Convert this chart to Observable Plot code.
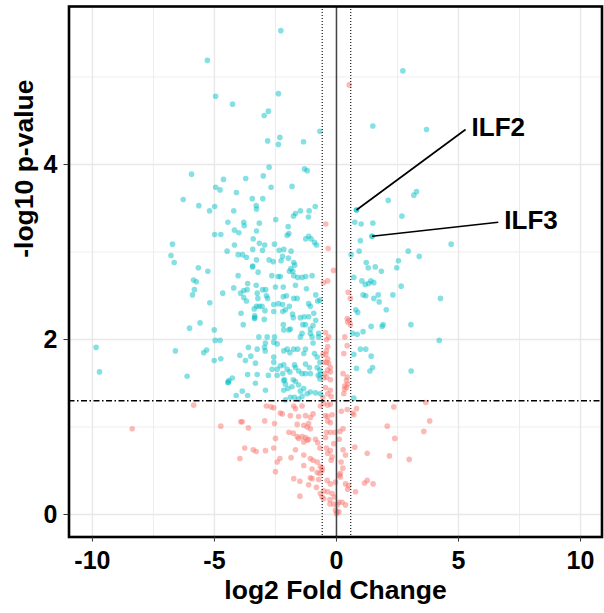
<!DOCTYPE html>
<html>
<head>
<meta charset="utf-8">
<script src="https://cdn.jsdelivr.net/npm/d3@7"></script>
<script src="https://cdn.jsdelivr.net/npm/@observablehq/plot@0.6"></script>
<style>
  html, body { margin: 0; padding: 0; background: white; }
  #chart { width: 604px; height: 613px; }
</style>
</head>
<body>
<div id="chart"></div>
<script>
// Significant genes (p < 0.05 and |log2FC| > log2(1.5)) : [log2FC, -log10 p]
const sigPoints = [
  [-5.29,5.19],[-4.95,4.78],[-4.26,4.69],[-5.94,3.89],[-4.63,3.83],[-3.72,3.84],[-4.95,3.74],[-4.77,3.71],[-4.10,3.68],[-6.28,3.60],[-3.45,3.61],
  [-2.28,5.53],[2.72,5.07],[-2.38,4.81],[-2.79,4.61],[-2.96,4.56],[1.49,4.44],[3.69,4.40],[-0.68,4.38],[-2.82,4.27],[-2.32,4.31],[-2.38,4.23],[-1.35,4.26],[-2.76,3.97],[-3.00,3.87],[-1.31,3.95],[-1.20,3.93],[-2.68,3.74],[-1.82,3.75],[-3.02,3.61],[2.12,3.59],[3.28,3.69],[3.17,3.65],
  [-5.64,3.53],[-4.99,3.52],[-5.20,3.47],[-3.29,3.53],[-3.28,3.49],[-4.21,3.47],[-4.45,3.34],[-3.80,3.34],[-3.78,3.30],[-3.16,3.33],[-4.18,3.25],[-4.00,3.22],[-3.28,3.24],[-4.99,3.20],[-4.74,3.20],[-3.41,3.15],[-6.72,3.09],[-4.18,3.08],[-3.16,3.10],[-4.48,3.01],[-3.43,3.03],[-6.78,2.96],[-4.03,2.97],[-3.85,2.97],[-3.69,2.94],[-3.28,2.91],[-6.65,2.88],[-3.43,2.84],[-3.44,2.83],[-5.66,2.82],[-5.27,2.78],[-3.21,2.77],[-4.03,2.73],[-5.86,2.68],[-5.74,2.66],[-5.82,2.57],[-4.21,2.59],[-3.64,2.64],[-3.29,2.62],[-3.80,2.56],[-3.66,2.57],[-3.93,2.53],[-3.25,2.53],[-4.66,2.53],[-5.90,2.51],[-3.80,2.48],[-3.69,2.44],[-5.19,2.42],[-3.28,2.38],[-3.16,2.38],[-3.37,2.35],[-3.91,2.30],[-3.35,2.27],[-3.36,2.24],[-3.35,2.25],[-3.82,2.17],[-6.02,2.13],[-5.59,2.19],[-5.01,2.11],[-4.97,1.99],[-4.77,1.99],[-9.85,1.91],[-6.60,1.87],[-5.44,1.85],[-5.32,1.88],[-5.01,1.76],[-4.74,1.78],[-3.96,1.82],[-3.73,1.76],[-3.51,1.81],[-3.61,1.91],[-3.25,1.89],[-3.32,1.73],[-9.71,1.63],[-6.12,1.58],[-4.27,1.56],[-4.41,1.53],[-3.64,1.60],[-3.25,1.60],
  [-4.45,1.51],[-4.43,1.51],[-3.32,1.50],[-3.86,1.41],[-4.11,1.36],[-3.64,1.36],
  [-0.87,3.52],[-1.12,3.47],[-1.48,3.47],[-1.68,3.44],[-1.76,3.41],[-2.49,3.37],[-1.15,3.40],[-1.98,3.29],[-1.95,3.21],[-2.02,3.19],[-1.14,3.18],[-1.04,3.15],[-1.26,3.15],[-0.90,3.11],[-0.82,3.08],[-2.94,3.08],[-2.54,3.09],[-3.03,3.02],[-2.16,3.03],[-2.35,3.02],[-1.86,3.01],[-2.76,2.91],[-2.59,2.89],[-2.21,2.95],[-2.27,2.90],[-1.97,2.93],[-1.75,2.88],[-1.71,2.85],[-1.87,2.81],[-1.79,2.78],[-1.93,2.78],[-1.75,2.73],[-1.59,2.71],[-1.41,2.71],[-1.26,2.72],[-1.00,2.73],[-2.65,2.73],[-2.39,2.72],[-2.30,2.72],[-2.90,2.57],[-3.03,2.57],[-1.68,2.62],[-1.23,2.58],[-2.50,2.60],[-2.18,2.60],[-2.87,2.50],[-2.82,2.47],[-3.22,2.47],[-2.18,2.49],[-2.05,2.50],[-2.38,2.41],[-2.57,2.40],[-2.21,2.40],[-1.75,2.47],[-1.61,2.47],[-1.14,2.41],[-1.07,2.38],[-0.85,2.51],[-0.68,2.45],[-0.77,2.44],[-3.05,2.38],[-1.93,2.38],[-2.93,2.33],[-2.09,2.34],[-2.20,2.32],[-2.57,2.32],[-1.80,2.29],[-1.77,2.25],[-2.96,2.23],[-2.18,2.17],[-1.48,2.25],[-1.32,2.26],[-1.14,2.26],[-0.93,2.30],[-1.38,2.17],[-1.27,2.17],[-1.89,2.12],[-1.95,2.11],[-2.16,2.11],[-0.85,2.22],[-0.96,2.16],[-1.07,2.12],[-2.54,2.03],[-2.84,2.03],[-2.91,1.96],[-2.95,1.91],[-2.92,1.87],[-2.57,1.97],[-2.43,1.95],[-3.18,2.03],[-1.41,2.07],[-1.48,2.03],[-1.07,2.07],[-1.00,2.03],[-0.96,1.96],[-0.73,2.07],[-0.73,2.03],[-2.16,1.87],[-2.02,1.89],[-1.91,1.85],[-1.75,1.89],[-1.59,1.89],[-1.27,1.89],[-1.34,1.84],[-0.90,1.84],[-0.79,1.80],[-0.68,1.74],[-0.79,1.68],[-0.68,1.65],[-0.75,1.59],[-2.57,1.80],[-1.72,1.71],[-1.68,1.68],[-2.30,1.70],[-2.43,1.66],[-2.64,1.66],[-2.20,1.61],[-1.91,1.63],[-1.55,1.64],[-1.41,1.61],[-1.27,1.61],[-1.11,1.68],[-1.07,1.61],[-2.79,1.59],[-2.13,1.54],[-1.77,1.54],
  [-2.43,1.59],[-2.02,1.66],[-2.16,1.53],[-2.09,1.49],[-2.16,1.42],[-1.99,1.44],[-1.82,1.46],[-1.68,1.52],[-1.55,1.48],[-1.48,1.41],[-1.34,1.44],[-1.20,1.38],[-1.07,1.40],[-0.86,1.39],[-1.72,1.34],[-1.89,1.34],[-2.09,1.31],[-1.55,1.32],[-1.41,1.35],[-0.66,1.60],[-0.68,1.55],[-0.66,1.38],[-2.91,1.42],[-2.57,1.74],[-2.16,1.71],[-1.27,1.72],
  [0.82,3.48],[0.75,3.34],[1.01,3.32],[1.49,3.33],[1.46,3.18],[0.98,3.13],[0.93,3.01],[0.60,2.97],[1.22,2.88],[1.30,2.82],[1.59,2.83],[1.84,2.78],[0.71,2.71],[1.04,2.67],[1.18,2.63],[1.32,2.64],[1.41,2.67],[1.53,2.65],[1.09,2.51],[1.20,2.50],[1.53,2.47],[1.71,2.51],[1.75,2.43],[2.31,2.51],[0.79,2.34],[0.87,2.31],[2.04,2.34],[1.42,2.15],[1.87,2.15],[1.91,2.17],[3.05,2.17],[0.66,2.07],[0.85,2.06],[1.09,2.09],[0.71,1.83],[0.82,1.67],[0.98,1.89],[1.20,1.89],[1.42,1.81],[1.37,1.64],[3.06,1.64],[4.21,1.99],[2.68,3.41],[2.94,3.01],[3.39,2.95],[2.54,2.90],[2.47,2.82],[2.65,2.61],[4.26,2.47],[4.70,3.09],[1.48,1.68],[0.71,1.33]
];

// Not significant genes : [log2FC, -log10 p]
const nsPoints = [
  [0.52,4.91],[-0.44,3.32],[-0.34,3.04],[-0.53,2.65],[-0.36,2.67],[-0.12,2.79],
  [-0.45,2.08],[-0.32,2.03],[-0.41,2.00],[-0.36,1.92],[-0.41,1.87],[-0.44,1.83],[-0.55,1.83],[-0.36,1.78],
  [-0.52,1.74],[-0.41,1.74],[-0.32,1.73],[-0.25,1.68],[-0.36,1.65],[-0.25,1.63],[-0.48,1.61],[-0.41,1.57],
  [0.48,2.54],[0.57,2.47],[0.44,2.24],[0.46,2.20],[0.52,2.22],[0.57,2.17],[0.34,2.03],[0.44,1.93],[0.30,1.84],[0.27,1.61],[0.44,1.57],
  [-0.52,1.56],[-0.25,1.54],[-0.45,1.45],[-0.25,1.42],[-0.36,1.38],[-0.56,1.34],[-0.22,1.35],
  [0.41,1.53],[0.46,1.49],[0.34,1.47],[0.33,1.43],[0.30,1.38],[0.41,1.45],
  [-5.85,1.25],[-3.92,1.06],[-4.74,1.01],[-3.61,0.99],[-8.37,0.98],[-3.76,0.76],[-3.41,0.74],[-3.29,0.72],[-3.96,0.64],
  [-2.87,1.24],[-2.68,1.23],[-2.57,1.22],[-1.75,1.24],[-1.68,1.21],[-1.41,1.24],[-0.66,1.24],[-0.52,1.27],[-0.36,1.25],[-0.25,1.26],
  [0.20,1.18],[0.44,1.20],[0.66,1.16],[0.82,1.21],[0.71,1.14],[2.35,1.23],
  [-2.30,1.16],[-2.22,1.15],[-1.89,1.13],[-1.55,1.12],[-1.27,1.13],[-1.07,1.11],[-0.96,1.15],
  [-0.45,1.13],[-0.36,1.12],[-0.18,1.14],[-0.25,1.05],[-0.36,1.07],
  [-3.86,1.06],[-2.94,1.07],[-2.54,1.04],
  [-1.61,1.03],[-1.34,1.02],[-1.14,1.04],[-1.20,1.00],[-1.07,0.98],
  [0.27,0.98],[0.14,0.95],[-0.07,0.94],[-0.41,0.94],[-0.25,0.94],[-0.45,0.88],
  [2.08,1.01],[3.58,0.95],[3.82,1.07],[2.39,0.87],[1.26,0.70],[2.17,0.67],[2.98,0.63],[3.66,1.28],
  [-1.95,0.94],[-1.77,0.93],[-1.61,0.89],[-1.55,0.87],[-1.41,0.89],[-1.27,0.88],[-1.20,0.85],[-1.34,0.83],[-1.14,0.86],[-0.86,0.86],[-0.77,0.82],[-0.68,0.76],
  [-2.50,0.87],[-2.57,0.76],[-2.91,0.73],
  [-1.68,0.74],[-1.34,0.68],[-1.07,0.64],[-0.96,0.62],[-0.79,0.60],[-0.66,0.55],[-0.59,0.50],
  [-0.41,0.76],[-0.36,0.70],[-0.25,0.73],[-0.18,0.66],[-0.22,0.62],[-0.11,0.81],[0.11,0.86],[0.27,0.74],[0.37,0.68],[0.19,0.60],[0.26,0.53],[0.16,0.47],[0.11,0.45],[0.75,0.77],
  [-1.86,0.65],[-2.32,0.64],[-2.43,0.60],[-2.50,0.49],
  [-1.34,0.56],[-1.00,0.52],[-0.79,0.48],[-0.68,0.47],[-0.59,0.53],
  [-1.75,0.41],[-1.50,0.38],[-1.07,0.42],[-1.00,0.41],[-0.73,0.40],[-1.14,0.34],[-0.82,0.31],
  [-0.38,0.39],[-0.25,0.35],[-0.04,0.37],[0.16,0.43],[0.37,0.35],[0.50,0.33],[0.46,0.29],[0.78,0.26],[1.15,0.36],[1.26,0.39],[1.50,0.35],
  [-0.66,0.24],[-0.59,0.20],[-0.52,0.27],[-0.36,0.26],[-0.18,0.24],[-0.08,0.20],[0.10,0.14],[-0.27,0.12],[-0.11,0.12],[0.03,0.11],[0.37,0.11],[0.23,0.14],[-1.50,0.21],
  [-0.52,0.18],[-0.27,0.17],
  [-0.04,0.05],[0.03,0.03],[0.10,0.03],[0.00,0.01]
];

// Labelled genes
const geneNames = ["ILF2", "ILF3"];
const geneFC = [0.82, 1.46];
const geneP = [3.48, 3.18];
const labelFC = [5.29, 6.63];
const labelP = [4.40, 3.34];

// Thresholds and ticks
const pThreshold = [1.3];
const fcThreshold = [-0.585, 0.585];
const xTicks = [-10, -5, 0, 5, 10];
const xMinor = [-7.5, -2.5, 2.5, 7.5];
const yTicks = [0, 2, 4];
const yMinor = [1, 3, 5];

const genes = geneNames.map((name, i) => ({name, fc: geneFC[i], p: geneP[i], lx: labelFC[i], ly: labelP[i]}));

const font = "'Liberation Sans', Arial, Helvetica, sans-serif";

const chart = Plot.plot({
  width: 604,
  height: 613,
  marginLeft: 68.5,
  marginRight: 2.5,
  marginTop: 6,
  marginBottom: 76.5,
  style: {fontFamily: font, background: "white", color: "black", overflow: "visible"},
  x: {domain: [-10.96, 10.88]},
  y: {domain: [-0.257, 5.806]},
  marks: [
    Plot.gridX(xMinor, {stroke: "#ebebeb", strokeOpacity: 1, strokeWidth: 0.9}),
    Plot.gridY(yMinor, {stroke: "#ebebeb", strokeOpacity: 1, strokeWidth: 0.9}),
    Plot.gridX(xTicks, {stroke: "#e8e8e8", strokeOpacity: 1, strokeWidth: 1.4}),
    Plot.gridY(yTicks, {stroke: "#e8e8e8", strokeOpacity: 1, strokeWidth: 1.4}),
    Plot.dot(nsPoints, {x: d => d[0], y: d => d[1], r: 2.8, fill: "#F8766D", fillOpacity: 0.5, stroke: null}),
    Plot.dot(sigPoints, {x: d => d[0], y: d => d[1], r: 2.8, fill: "#00BFC4", fillOpacity: 0.48, stroke: null}),
    Plot.dot(genes, {x: "fc", y: "p", r: 2.8, fill: "#00BFC4", fillOpacity: 0.48, stroke: null}),
    Plot.ruleY(pThreshold, {stroke: "black", strokeWidth: 1.3, strokeDasharray: "6,2.5,1.5,2.5"}),
    Plot.ruleX(fcThreshold, {stroke: "black", strokeWidth: 1.1, strokeDasharray: "1,2"}),
    Plot.ruleX([0], {stroke: "#444", strokeWidth: 1.5}),
    Plot.link(genes, {x1: "fc", y1: "p", x2: "lx", y2: "ly", stroke: "black", strokeWidth: 1.7}),
    Plot.text(genes, {x: "lx", y: "ly", text: "name", textAnchor: "start", dx: 6, dy: -1.5, lineAnchor: "middle", fontSize: 26, fontWeight: "bold", fill: "black"}),
    Plot.frame({stroke: "black", strokeWidth: 2.6}),
    Plot.axisX(xTicks, {tickSize: 5, tickPadding: 9, fontSize: 25, fontWeight: "bold", tickFormat: d => String(d), label: null, stroke: "#333"}),
    Plot.axisY(yTicks, {tickSize: 5, tickPadding: 6.5, fontSize: 25, fontWeight: "bold", tickFormat: d => String(d), label: null, stroke: "#333"}),
    Plot.text(["log2 Fold Change"], {frameAnchor: "bottom", dy: 53.2, lineAnchor: "middle", fontSize: 26.5, fontWeight: "bold", fill: "black"}),
    Plot.text(["-log10 p-value"], {frameAnchor: "left", dx: -44.5, dy: -14, rotate: -90, lineAnchor: "middle", fontSize: 26.5, fontWeight: "bold", fill: "black"})
  ]
});

document.getElementById("chart").appendChild(chart);
</script>
</body>
</html>
